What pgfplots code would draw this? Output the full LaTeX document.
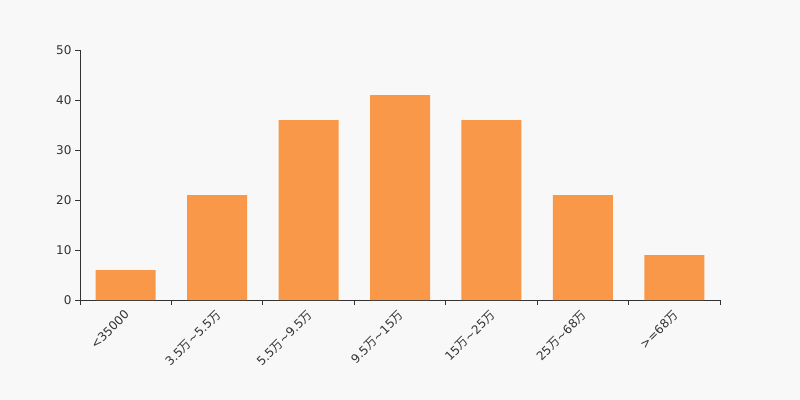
\documentclass[border=0pt]{standalone}
\usepackage{pgfplots}
\pgfplotsset{compat=1.18}
\usepackage{fontspec}
\setmainfont{DejaVu Sans}
\newfontfamily\cjk{Noto Sans CJK SC}
\definecolor{bg}{HTML}{F8F8F8}
\definecolor{barc}{HTML}{F89848}
\definecolor{txt}{HTML}{333333}
\newcommand{\wan}{{\cjk 万}}
\begin{document}
\begin{tikzpicture}
\fill[bg] (0,0) rectangle (800bp,400bp);
\useasboundingbox (0,0) rectangle (800bp,400bp);
\begin{axis}[
  at={(80bp,100bp)}, anchor=south west,
  scale only axis, width=640bp, height=250bp,
  xmin=-0.5, xmax=6.5, ymin=0, ymax=50,
  axis lines*=left,
  axis line style={txt, line width=0.8bp},
  every tick/.style={txt, line width=0.8bp},
  xtick={0,...,6},
  major x tick style={draw=none},
  minor xtick={-0.5,0.5,...,6.5},
  minor tick length=5bp,
  ytick={0,10,...,50},
  major tick length=5bp,
  tick align=outside,
  xticklabels={{<35000},{3.5\wan\textasciitilde5.5\wan},{5.5\wan\textasciitilde9.5\wan},{9.5\wan\textasciitilde15\wan},{15\wan\textasciitilde25\wan},{25\wan\textasciitilde68\wan},{>=68\wan}},
  xticklabel style={rotate=45, anchor=north east, font=\fontsize{12bp}{14bp}\selectfont, text=txt, xshift=-1bp, yshift=2bp},
  yticklabel style={font=\fontsize{12bp}{14bp}\selectfont, text=txt},
  /pgf/number format/assume math mode=true,
  ybar, bar width=60bp,
  clip=false,
]
\addplot[fill=barc, draw=none] coordinates {(0,6) (1,21) (2,36) (3,41) (4,36) (5,21) (6,9)};
\end{axis}
\end{tikzpicture}
\end{document}
